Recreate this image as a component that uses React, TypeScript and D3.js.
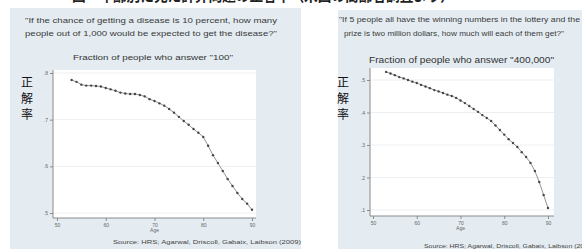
import { useEffect, useRef } from "react"
import * as d3 from "d3"

// ages on the x axis (HRS respondents)
const ages = [53, 54, 55, 56, 57, 58, 59, 60, 61, 62, 63, 64, 65, 66, 67, 68, 69, 70, 71, 72, 73, 74, 75, 76, 77, 78, 79, 80, 81, 82, 83, 84, 85, 86, 87, 88, 89, 90]

// fraction answering "100"
const share100 = [0.785, 0.781, 0.775, 0.773, 0.773, 0.772, 0.771, 0.768, 0.765, 0.762, 0.758, 0.756, 0.755, 0.755, 0.753, 0.75, 0.744, 0.74, 0.735, 0.73, 0.723, 0.715, 0.706, 0.697, 0.689, 0.68, 0.672, 0.663, 0.644, 0.624, 0.607, 0.59, 0.573, 0.558, 0.543, 0.53, 0.52, 0.507]

// fraction answering "400,000"
const share400k = [0.525, 0.52, 0.515, 0.509, 0.505, 0.5, 0.495, 0.491, 0.485, 0.48, 0.475, 0.469, 0.465, 0.46, 0.455, 0.451, 0.445, 0.437, 0.429, 0.42, 0.411, 0.402, 0.392, 0.383, 0.374, 0.36, 0.346, 0.332, 0.318, 0.306, 0.294, 0.278, 0.263, 0.245, 0.22, 0.186, 0.146, 0.106]

const ageTicks = [50, 60, 70, 80, 90]
const leftTicks = [0.5, 0.6, 0.7, 0.8]
const leftTickLabels = [".5", ".6", ".7", ".8"]
const rightTicks = [0.1, 0.2, 0.3, 0.4, 0.5]
const rightTickLabels = [".1", ".2", ".3", ".4", ".5"]

const pageTitle = "図　年齢別に見た計算問題の正答率（米国の高齢者調査より）"
const yLabel = ["正", "解", "率"]
const leftQuestion = [
  "\"If the chance of getting a disease is 10 percent, how many",
  "people out of 1,000 would be expected to get the disease?\"",
]
const rightQuestion = [
  "\"If 5 people all have the winning numbers in the lottery and the",
  "prize is two million dollars, how much will each of them get?\"",
]
const leftSubtitle = "Fraction of people who answer \"100\""
const rightSubtitle = "Fraction of people who answer \"400,000\""
const sourceText = "Source: HRS; Agarwal, Driscoll, Gabaix, Laibson (2009)"

const FONT = "'Liberation Sans', Arial, sans-serif"
const CJK = "'Noto Sans CJK JP', sans-serif"

function drawPanel(svg: any, p: any) {
  const g = svg.append("g")

  g.append("rect")
    .attr("x", p.bx).attr("y", p.by).attr("width", p.bw).attr("height", p.bh)
    .attr("fill", "#e4ecf2")

  g.append("rect")
    .attr("x", p.px0).attr("y", p.py0)
    .attr("width", p.px1 - p.px0).attr("height", p.py1 - p.py0)
    .attr("fill", "#ffffff")

  const x = d3.scaleLinear().domain([50, 90]).range([p.xt0, p.xt1])
  const y = d3.scaleLinear().domain([p.yTicks[0], p.yTicks[p.yTicks.length - 1]]).range([p.yt0, p.yt1])

  // grid
  g.selectAll(".grid")
    .data(p.yTicks)
    .enter()
    .append("line")
    .attr("x1", p.px0).attr("x2", p.px1)
    .attr("y1", (d: number) => y(d)).attr("y2", (d: number) => y(d))
    .attr("stroke", "#eceff1")
    .attr("stroke-width", 1)

  // y axis
  const ya = g.append("g")
    .attr("transform", `translate(${p.px0},0)`)
    .call(d3.axisLeft(y).tickValues(p.yTicks).tickFormat((d: any, i: number) => p.yLabels[i]).tickSize(3).tickPadding(2))
  ya.select(".domain").remove()
  ya.selectAll("line").attr("stroke", "#8a8a8a")
  ya.selectAll("text")
    .attr("font-family", FONT).attr("font-size", 5).attr("fill", "#666")

  g.append("line")
    .attr("x1", p.px0).attr("x2", p.px0).attr("y1", p.py0).attr("y2", p.py1)
    .attr("stroke", "#8a8a8a").attr("stroke-width", 1)

  // x axis
  const xa = g.append("g")
    .attr("transform", `translate(0,${p.py1})`)
    .call(d3.axisBottom(x).tickValues(ageTicks).tickFormat(d3.format("d")).tickSize(3).tickPadding(2))
  xa.select(".domain").remove()
  xa.selectAll("line").attr("stroke", "#8a8a8a")
  xa.selectAll("text")
    .attr("font-family", FONT).attr("font-size", 5).attr("fill", "#666")

  g.append("line")
    .attr("x1", p.px0).attr("x2", p.px1).attr("y1", p.py1).attr("y2", p.py1)
    .attr("stroke", "#8a8a8a").attr("stroke-width", 1)

  g.append("text")
    .attr("x", x(70)).attr("y", p.py1 + 14)
    .attr("text-anchor", "middle")
    .attr("font-family", FONT).attr("font-size", 5).attr("fill", "#666")
    .text("Age")

  // series
  const line = d3.line<number>()
    .x((d, i) => x(ages[i]))
    .y((d) => y(d))

  g.append("path")
    .datum(p.values)
    .attr("d", line)
    .attr("fill", "none")
    .attr("stroke", "#777")
    .attr("stroke-width", 0.8)

  g.selectAll(".dot")
    .data(p.values)
    .enter()
    .append("circle")
    .attr("cx", (d: number, i: number) => x(ages[i]))
    .attr("cy", (d: number) => y(d))
    .attr("r", 1.2)
    .attr("fill", "#444")

  // texts
  p.question.forEach((q: string, i: number) => {
    g.append("text")
      .attr("x", p.qx[i]).attr("y", p.qy[i])
      .attr("text-anchor", "middle")
      .attr("font-family", FONT).attr("font-size", 7).attr("fill", "#3a3a3a")
      .attr("textLength", p.qw[i]).attr("lengthAdjust", "spacingAndGlyphs")
      .text(q)
  })

  g.append("text")
    .attr("x", p.sx).attr("y", p.sy)
    .attr("text-anchor", "middle")
    .attr("font-family", FONT).attr("font-size", p.sSize).attr("fill", "#333")
    .attr("textLength", p.sw).attr("lengthAdjust", "spacingAndGlyphs")
    .text(p.subtitle)

  yLabel.forEach((c, i) => {
    g.append("text")
      .attr("x", p.lx).attr("y", 87 + i * 16)
      .attr("text-anchor", "middle")
      .attr("font-family", CJK).attr("font-size", 12).attr("fill", "#111")
      .text(c)
  })

  g.append("text")
    .attr("x", p.srcx).attr("y", p.srcy)
    .attr("font-family", FONT).attr("font-size", 6).attr("fill", "#444")
    .attr("textLength", p.srcw).attr("lengthAdjust", "spacingAndGlyphs")
    .text(sourceText)
}

function Chart() {
  const svgRef = useRef<SVGSVGElement>(null)

  useEffect(() => {
    if (!svgRef.current) return
    const svg = d3.select(svgRef.current)
    svg.selectAll("*").remove()

    svg.append("rect").attr("width", 582).attr("height", 249).attr("fill", "#ffffff")

    drawPanel(svg, {
      bx: 10, by: 8, bw: 291, bh: 241,
      px0: 53, px1: 256, py0: 70, py1: 218,
      xt0: 57, xt1: 252,
      yTicks: leftTicks, yLabels: leftTickLabels, yt0: 213, yt1: 73,
      values: share100,
      question: leftQuestion, qx: [151, 151], qy: [22.5, 35.5], qw: [252, 252],
      subtitle: leftSubtitle, sx: 153, sy: 59.5, sw: 160, sSize: 7.5,
      lx: 27,
      srcx: 113, srcy: 244, srcw: 188,
    })

    drawPanel(svg, {
      bx: 338, by: 10, bw: 244, bh: 239,
      px0: 370, px1: 554, py0: 68, py1: 216,
      xt0: 373, xt1: 548,
      yTicks: rightTicks, yLabels: rightTickLabels, yt0: 210, yt1: 80,
      values: share400k,
      question: rightQuestion, qx: [459.5, 454], qy: [21.5, 35.5], qw: [241, 220],
      subtitle: rightSubtitle, sx: 461.5, sy: 63, sw: 185, sSize: 9,
      lx: 343,
      srcx: 424, srcy: 248, srcw: 170,
    })

    // page heading, mostly cut off at the top edge
    svg.append("text")
      .attr("x", 72).attr("y", 1)
      .attr("font-family", CJK).attr("font-size", 16).attr("font-weight", "bold").attr("fill", "#222")
      .attr("textLength", 382).attr("lengthAdjust", "spacingAndGlyphs")
      .text(pageTitle)
  }, [])

  return <svg ref={svgRef} width={582} height={249} style={{ display: "block" }} />
}

export default function App() {
  return (
    <div style={{ position: "absolute", left: 0, top: 0 }}>
      <Chart />
    </div>
  )
}
